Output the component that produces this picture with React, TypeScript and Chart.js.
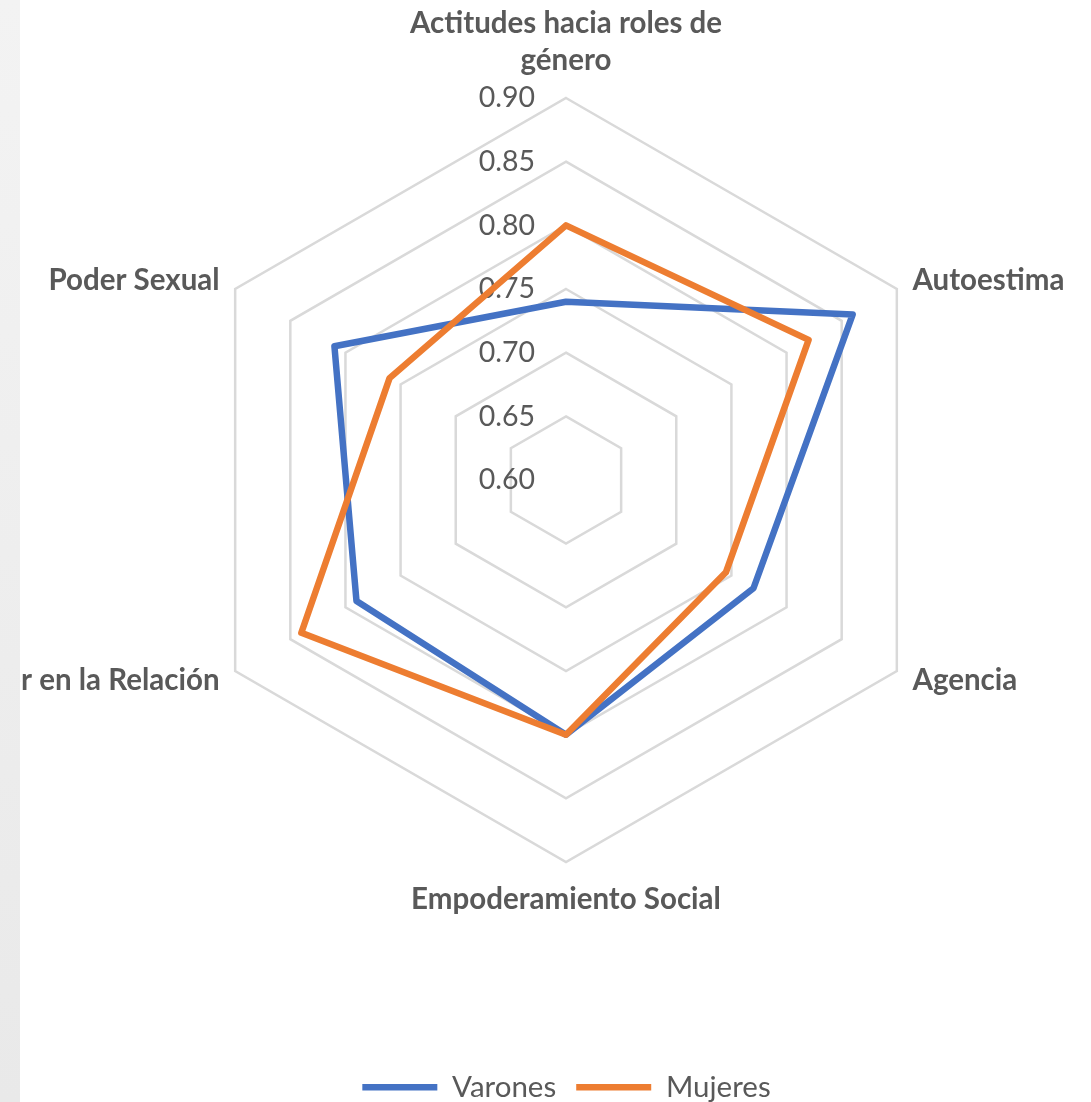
import React, { useEffect, useRef } from 'react';
import { Chart, registerables } from 'chart.js';

Chart.register(...registerables);

// ---- data ----
const categories: (string | string[])[] = [
  ['Actitudes hacia roles de', 'género'],
  'Autoestima',
  'Agencia',
  'Empoderamiento Social',
  'Poder en la Relación',
  'Poder Sexual',
];
const seriesNames = ['Varones', 'Mujeres'];
const varones = [0.74, 0.86, 0.77, 0.8, 0.79, 0.81];
const mujeres = [0.8, 0.82, 0.745, 0.8, 0.84, 0.76];
const tickMin = 0.6;
const tickMax = 0.9;
const tickStep = 0.05;

// ---- styles ----
const FONT = "Lato, 'Open Sans', sans-serif";
const TEXT = '#595959';
const BLUE = '#4472C4';
const ORANGE = '#ED7D31';
const GRID = '#d9d9d9';
const LEGEND_SIZE = 29.5;
const LEGEND_PAD = 20;
const LEGEND_BLOCK = 249; // height from plot bottom to canvas bottom

const excelLabels = {
  id: 'excelLabels',
  beforeDatasetsDraw(chart: any) {
    const scale = chart.scales.r;
    const ctx = chart.ctx;
    ctx.save();
    // tick labels, left of the vertical axis
    ctx.font = `28.5px ${FONT}`;
    ctx.fillStyle = TEXT;
    ctx.textAlign = 'right';
    ctx.textBaseline = 'middle';
    scale.ticks.forEach((t: any) => {
      const d = scale.getDistanceFromCenterForValue(t.value);
      ctx.fillText(Number(t.value).toFixed(2), scale.xCenter - 31, scale.yCenter - d);
    });
    // category labels
    ctx.font = `bold 29.5px ${FONT}`;
    const labels = chart.data.labels as (string | string[])[];
    labels.forEach((lab, i) => {
      const lines = Array.isArray(lab) ? lab : [lab];
      const ang = scale.getIndexAngle(i) - Math.PI / 2;
      const c = Math.cos(ang);
      const s = Math.sin(ang);
      const vertical = Math.abs(c) < 0.01;
      const off = vertical ? (s < 0 ? 38 : 37) : 18;
      const p = scale.getPointPosition(i, scale.drawingArea + off);
      ctx.textAlign = vertical ? 'center' : c > 0 ? 'left' : 'right';
      const lh = 37;
      lines.forEach((ln, k) => {
        const y = vertical && s < 0 ? p.y - (lines.length - 1 - k) * lh : p.y + k * lh;
        ctx.fillText(ln, p.x, y);
      });
    });
    ctx.restore();
  },
};

export default function App() {
  const ref = useRef<HTMLCanvasElement | null>(null);

  useEffect(() => {
    if (!ref.current) return;
    const common = {
      borderWidth: 6.5,
      pointBorderWidth: 6.5,
      pointRadius: 0,
      pointHoverRadius: 0,
      pointStyle: 'line',
      borderJoinStyle: 'round',
      borderCapStyle: 'round',
      fill: false,
    };
    const chart = new Chart(ref.current, {
      type: 'radar',
      data: {
        labels: categories,
        datasets: [
          {
            ...common,
            label: seriesNames[0],
            data: varones,
            borderColor: BLUE,
            backgroundColor: BLUE,
            pointBorderColor: BLUE,
            pointBackgroundColor: BLUE,
            order: 1,
          },
          {
            ...common,
            label: seriesNames[1],
            data: mujeres,
            borderColor: ORANGE,
            backgroundColor: ORANGE,
            pointBorderColor: ORANGE,
            pointBackgroundColor: ORANGE,
            order: 0,
          },
        ],
      },
      options: {
        responsive: false,
        animation: false,
        layout: { padding: { left: 164, right: 142, top: 98, bottom: 0 } },
        scales: {
          r: {
            min: tickMin,
            max: tickMax,
            beginAtZero: false,
            ticks: { stepSize: tickStep, display: false },
            grid: { circular: false, color: GRID, lineWidth: 2.5 },
            angleLines: { display: false },
            pointLabels: { display: false },
          },
        },
        plugins: {
          tooltip: { enabled: false },
          legend: {
            position: 'bottom',
            title: {
              display: true,
              text: '',
              font: { size: 10, lineHeight: 1 },
              padding: { top: 0, bottom: LEGEND_BLOCK - LEGEND_SIZE - LEGEND_PAD - 10 - 10 },
            },
            labels: {
              usePointStyle: true,
              pointStyleWidth: 75,
              padding: LEGEND_PAD,
              color: TEXT,
              font: { family: FONT, size: LEGEND_SIZE },
              sort: (a: any, b: any) => a.datasetIndex - b.datasetIndex,
            },
          },
        },
      },
      plugins: [excelLabels],
    } as any);
    return () => chart.destroy();
  }, []);

  return (
    <div
      style={{
        position: 'absolute',
        left: 0,
        top: 0,
        width: 1091,
        height: 1102,
        overflow: 'hidden',
        background: '#ffffff',
      }}
    >
      <div
        style={{
          position: 'absolute',
          left: 0,
          top: 0,
          width: 20,
          height: 1102,
          background: 'linear-gradient(#f3f3f3, #e9e9e9)',
        }}
      />
      <div style={{ position: 'absolute', left: 20, top: 0, width: 1071, height: 1112 }}>
        <canvas ref={ref} width={1071} height={1112} style={{ width: 1071, height: 1112, display: 'block' }} />
      </div>
    </div>
  );
}
